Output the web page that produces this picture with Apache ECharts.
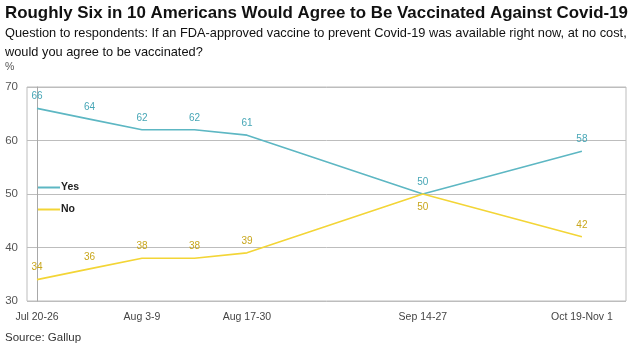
<!DOCTYPE html>
<html>
<head>
<meta charset="utf-8">
<script src="https://cdn.jsdelivr.net/npm/echarts@6/dist/echarts.min.js"></script>
<style>
  html, body { margin: 0; padding: 0; background: #fff; }
  #chart { width: 635px; height: 347px; }
</style>
</head>
<body>
<div id="chart"></div>
<script>
// Survey waves and their position along the horizontal scale (wave spacing as published)
const waves = ['Jul 20-26', 'Jul 27-Aug 2', 'Aug 3-9', 'Aug 10-16', 'Aug 17-30', 'Sep 14-27', 'Oct 19-Nov 1'];
const wavePos = [0, 1, 2, 3, 4, 7.35, 10.38];
// Which waves get a tick label
const labelledWaves = ['Jul 20-26', 'Aug 3-9', 'Aug 17-30', 'Sep 14-27', 'Oct 19-Nov 1'];

// Percent who would agree to be vaccinated
const yesValues = [66, 64, 62, 62, 61, 50, 58];
const noValues = [34, 36, 38, 38, 39, 50, 42];

const yTicks = [30, 40, 50, 60, 70];

const FONT = '"Liberation Sans", Arial, sans-serif';

const YES_LINE = '#5DB7C3';
const YES_TEXT = '#46A6B6';
const NO_LINE = '#F3D536';
const NO_TEXT = '#C8A61C';

const labelPositions = labelledWaves.map(w => wavePos[waves.indexOf(w)]);

function pairs(values) {
  return values.map((v, i) => [wavePos[i], v]);
}

const chart = echarts.init(document.getElementById('chart'), null, { renderer: 'canvas' });

chart.setOption({
  animation: false,
  backgroundColor: '#ffffff',
  title: [
    {
      text: 'Roughly Six in 10 Americans Would Agree to Be Vaccinated Against Covid-19',
      left: 5, top: 5, padding: 0,
      textStyle: { fontFamily: FONT, fontSize: 16.9, fontWeight: 'bold', color: '#111' }
    },
    {
      text: 'Question to respondents: If an FDA-approved vaccine to prevent Covid-19 was available right now, at no cost,\nwould you agree to be vaccinated?',
      left: 5, top: 24, padding: 0,
      textStyle: { fontFamily: FONT, fontSize: 12.8, fontWeight: 'normal', color: '#111', lineHeight: 19 }
    },
    {
      text: '%',
      left: 5, top: 62, padding: 0,
      textStyle: { fontFamily: FONT, fontSize: 10.5, fontWeight: 'normal', color: '#555' }
    },
    {
      text: 'Source: Gallup',
      left: 5, top: 332, padding: 0,
      textStyle: { fontFamily: FONT, fontSize: 11.5, fontWeight: 'normal', color: '#333' }
    }
  ],
  legend: {
    orient: 'vertical',
    left: 38, top: 182, padding: 0,
    itemWidth: 22, itemHeight: 2, itemGap: 11,
    icon: 'rect',
    data: ['Yes', 'No'],
    textStyle: { fontFamily: FONT, fontSize: 10.5, fontWeight: 'bold', color: '#222', padding: [0, 0, 0, -4] }
  },
  grid: {
    left: 27, right: 9, top: 87, bottom: 46,
    show: true, borderColor: '#BDBDBD', borderWidth: 1
  },
  xAxis: {
    type: 'value',
    min: -0.19, max: 11.22,
    splitLine: { show: false },
    axisLine: { show: false },
    axisTick: { show: false },
    axisLabel: {
      customValues: labelPositions,
      margin: 11,
      fontFamily: FONT, fontSize: 10.5, color: '#444',
      formatter: v => {
        const i = labelPositions.findIndex(p => Math.abs(p - v) < 1e-6);
        return i >= 0 ? labelledWaves[i] : '';
      }
    }
  },
  yAxis: {
    type: 'value',
    min: yTicks[0], max: yTicks[yTicks.length - 1], interval: 10,
    axisLine: { show: true, lineStyle: { color: '#A8A8A8' } },
    axisTick: { show: false },
    splitLine: { show: true, lineStyle: { color: '#BDBDBD', width: 1 } },
    axisLabel: { margin: 9, fontFamily: FONT, fontSize: 11.5, color: '#555' }
  },
  series: [
    {
      name: 'Yes', type: 'line',
      data: pairs(yesValues),
      symbol: 'circle', symbolSize: 0, showSymbol: true,
      lineStyle: { color: YES_LINE, width: 1.6 },
      itemStyle: { color: YES_LINE },
      label: {
        show: true, position: 'top', distance: 7,
        fontFamily: FONT, fontSize: 10, color: YES_TEXT,
        formatter: p => p.value[1]
      }
    },
    {
      name: 'No', type: 'line',
      data: pairs(noValues).map((d, i) => ({
        value: d,
        label: waves[i] === 'Sep 14-27' ? { position: 'bottom', distance: 8 } : undefined
      })),
      symbol: 'circle', symbolSize: 0, showSymbol: true,
      lineStyle: { color: NO_LINE, width: 1.6 },
      itemStyle: { color: NO_LINE },
      label: {
        show: true, position: 'top', distance: 7,
        fontFamily: FONT, fontSize: 10, color: NO_TEXT,
        formatter: p => p.value[1]
      }
    }
  ]
});
</script>
</body>
</html>
